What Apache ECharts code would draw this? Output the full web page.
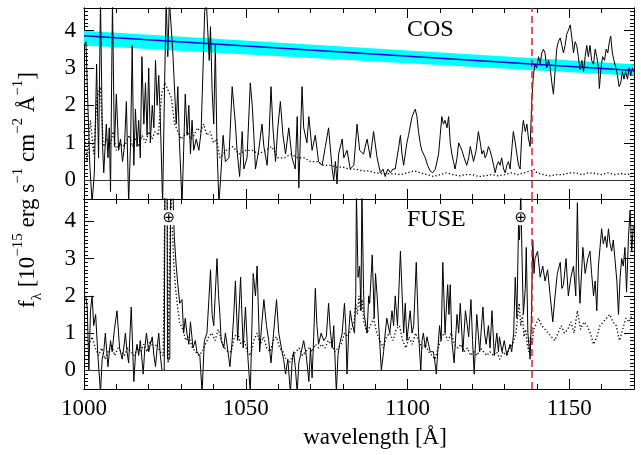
<!DOCTYPE html>
<html>
<head>
<meta charset="utf-8">
<script src="https://cdn.jsdelivr.net/npm/echarts@6/dist/echarts.min.js"></script>
<style>
  html, body { margin: 0; padding: 0; background: #fff; }
  #chart { width: 641px; height: 455px; }
</style>
</head>
<body>
<div id="chart"></div>
<script>
const FONT = '"Liberation Serif", "DejaVu Serif", serif';

// axis ranges and ticks
const xMin = 1000, xMax = 1170;
const yMin = -0.5, yMax = 4.6;
const xMajorStep = 50, xMinorStep = 10, yMinorStep = 0.1;

// dashed red line and earth-symbol positions
const edgeWave = 1138.5;
const panelNames = ['COS', 'FUSE'];
const earthMarks = [[1026.2, 4.1], [1135.0, 4.1]];

// continuum fit and its band (COS panel)
const fitLine = [[1000, 3.86], [1170, 2.93]];
const bandLo = [[1000, 3.60], [1170, 2.79]];
const bandHi = [[1000, 3.99], [1170, 3.10]];

// COS flux, solid
const cosFlux = [
  [1000.0,3.6],[1000.6,3.7],[1001.2,2.0],[1001.8,0.4],[1002.5,-0.6],[1003.2,0.2],[1003.9,3.1],[1004.5,0.6],
  [1005.1,4.8],[1005.7,1.0],[1006.1,0.2],[1006.9,1.5],[1007.4,0.6],[1007.8,1.4],[1008.2,-0.3],[1008.8,4.8],
  [1009.4,0.9],[1010.0,2.3],[1010.7,0.8],[1011.3,1.1],[1011.9,0.5],[1012.5,0.9],[1013.1,2.1],[1013.8,-0.6],
  [1014.4,1.0],[1014.9,3.6],[1015.4,0.4],[1015.9,1.9],[1016.4,0.9],[1016.9,1.6],[1017.4,0.6],[1017.9,3.3],
  [1018.5,1.5],[1019.0,2.6],[1019.5,1.2],[1020.0,3.0],[1020.5,1.0],[1021.1,2.0],[1021.6,1.4],[1022.1,3.2],
  [1022.6,2.0],[1023.1,2.8],[1023.6,1.6],[1024.3,-0.6],[1024.9,2.5],[1025.4,4.8],[1025.9,3.3],[1026.4,4.8],
  [1026.9,4.8],[1027.4,3.5],[1027.9,2.6],[1028.5,1.5],[1029.0,2.5],[1029.5,1.0],[1030.3,-0.6],[1030.8,0.8],
  [1031.3,2.3],[1031.9,1.2],[1032.4,2.0],[1032.9,0.7],[1033.4,1.6],[1033.9,0.8],[1034.7,1.1],[1035.5,0.8],
  [1036.2,1.3],[1036.8,3.0],[1037.3,4.5],[1037.8,4.8],[1038.3,4.8],[1038.7,3.2],[1039.1,4.1],[1039.6,2.4],
  [1040.1,1.5],[1040.6,3.6],[1041.1,0.9],[1041.7,-0.6],[1042.2,0.0],[1043.0,1.2],[1043.7,0.5],[1044.8,0.6],
  [1045.8,2.5],[1046.3,2.0],[1046.8,1.5],[1047.3,0.8],[1048.1,0.1],[1048.9,1.3],[1049.4,0.3],[1050.4,0.6],
  [1051.4,2.6],[1052.0,2.0],[1052.5,1.2],[1053.0,0.3],[1054.0,0.8],[1055.0,1.5],[1055.6,0.9],[1056.6,0.4],
  [1057.2,1.2],[1057.8,2.5],[1058.4,1.4],[1059.2,0.5],[1059.9,1.4],[1060.7,2.1],[1061.5,1.2],[1062.3,0.7],
  [1063.3,1.4],[1064.3,0.6],[1065.3,0.3],[1065.9,1.7],[1066.4,-0.2],[1066.9,1.2],[1067.4,2.5],[1067.9,1.4],
  [1068.9,1.0],[1069.5,1.7],[1070.5,0.8],[1071.5,1.2],[1072.5,0.5],[1073.6,0.4],[1074.6,0.9],[1075.6,1.4],
  [1076.7,0.3],[1077.2,0.0],[1077.7,0.5],[1078.2,-0.1],[1078.7,0.7],[1079.8,1.1],[1080.3,0.6],[1081.3,0.8],
  [1082.3,0.3],[1083.4,0.4],[1084.4,1.5],[1085.2,0.8],[1086.4,0.7],[1087.5,1.1],[1088.5,0.6],[1089.5,1.3],
  [1090.6,0.6],[1091.6,0.2],[1092.4,0.3],[1093.1,0.1],[1093.9,0.3],[1094.7,0.2],[1095.5,0.3],[1096.2,0.3],
  [1097.3,0.9],[1097.8,1.2],[1098.3,0.7],[1098.8,0.4],[1099.8,1.0],[1100.3,1.2],[1101.4,1.7],[1102.4,1.9],
  [1102.9,1.7],[1103.4,1.3],[1103.9,1.0],[1104.4,0.8],[1105.5,0.6],[1106.2,0.4],[1107.0,0.25],[1107.8,0.2],
  [1108.6,0.3],[1109.6,0.7],[1110.1,1.2],[1110.6,1.7],[1111.1,1.5],[1111.6,1.6],[1112.2,1.4],[1112.7,1.7],
  [1113.2,1.0],[1113.7,0.7],[1114.2,0.5],[1114.7,0.3],[1115.3,0.6],[1115.8,1.0],[1116.3,0.9],[1116.8,0.8],
  [1117.5,0.6],[1118.3,0.4],[1118.9,0.6],[1119.4,0.9],[1119.9,0.7],[1120.4,0.5],[1121.2,0.8],[1121.9,1.3],
  [1122.5,1.0],[1123.0,0.7],[1123.5,0.8],[1124.0,0.6],[1124.5,0.7],[1125.0,0.9],[1125.5,0.8],[1126.1,0.6],
  [1126.6,0.4],[1127.1,0.2],[1127.6,0.4],[1128.1,0.5],[1128.6,0.4],[1129.1,0.6],[1129.7,0.3],[1130.2,0.2],
  [1130.7,0.4],[1131.2,0.5],[1131.7,0.3],[1132.2,0.8],[1132.7,1.3],[1133.3,1.0],[1133.8,0.7],[1134.3,0.4],
  [1134.8,0.3],[1135.3,1.2],[1135.8,1.6],[1136.4,1.3],[1136.9,1.5],[1137.4,1.1],[1137.9,0.9],[1138.4,2.1],
  [1138.9,2.8],[1139.4,3.1],[1139.9,3.0],[1140.5,3.3],[1141.0,3.1],[1141.5,3.4],[1142.0,3.5],[1142.5,3.4],
  [1143.0,3.0],[1143.6,3.2],[1144.1,3.0],[1144.6,2.6],[1145.1,2.3],[1145.6,2.9],[1146.1,3.5],[1146.6,3.7],
  [1147.2,3.8],[1147.7,3.6],[1148.2,3.4],[1148.7,3.6],[1149.2,3.9],[1149.7,4.0],[1150.3,4.15],[1150.8,3.8],
  [1151.3,3.4],[1151.8,3.7],[1152.3,3.6],[1152.8,3.3],[1153.3,2.95],[1153.9,3.2],[1154.4,2.9],[1154.9,3.3],
  [1155.4,3.6],[1155.9,3.3],[1156.4,3.6],[1156.9,3.2],[1157.5,3.1],[1158.0,3.5],[1158.5,3.3],[1159.0,3.0],
  [1159.3,2.45],[1159.8,3.0],[1160.3,3.3],[1160.9,3.2],[1161.4,3.5],[1161.9,3.4],[1162.4,3.7],[1162.8,3.85],
  [1163.3,3.4],[1163.8,3.2],[1164.4,3.0],[1164.9,2.8],[1165.4,2.5],[1165.9,2.6],[1166.4,2.9],[1166.9,2.7],
  [1167.4,2.9],[1168.0,2.7],[1168.5,3.0],[1169.0,2.8],[1169.5,3.0],[1170.0,2.9]
];

// COS error, dotted
const cosErr = [
  [1000,1.3],[1001,0.5],[1002,1.6],[1003,0.7],[1004,2.2],[1005,2.5],[1006,0.9],[1007,1.1],[1008,0.9],
  [1009,1.3],[1010,0.8],[1011,1.0],[1012,0.9],[1013,1.0],[1014,1.2],[1015,0.9],[1016,1.1],[1017,0.9],
  [1018,1.2],[1019,1.0],[1020,1.3],[1021,1.1],[1022,1.3],[1023,1.2],[1024,2.3],[1025,2.6],[1026,2.4],
  [1027,2.2],[1028,1.5],[1029,1.3],[1030,1.1],[1031,1.2],[1032,1.3],[1033,1.1],[1034,1.2],[1035,1.4],
  [1036,1.3],[1037,1.5],[1038,1.2],[1039,1.3],[1040,1.0],[1041,1.1],[1042,0.6],[1044,0.8],[1046,0.9],
  [1048,0.7],[1050,0.8],[1052,0.8],[1054,0.7],[1056,0.8],[1058,0.9],[1060,0.6],[1062,0.6],[1064,0.7],
  [1066,0.6],[1068,0.6],[1070,0.5],[1072,0.5],[1074,0.4],[1076,0.4],[1078,0.35],[1080,0.35],[1082,0.3],
  [1084,0.3],[1086,0.25],[1088,0.25],[1090,0.2],[1092,0.18],[1094,0.18],[1096,0.17],[1098,0.15],[1100,0.2],
  [1102,0.25],[1104,0.2],[1106,0.15],[1108,0.1],[1110,0.15],[1112,0.2],[1114,0.15],[1116,0.12],[1118,0.15],
  [1120,0.15],[1122,0.1],[1124,0.12],[1126,0.15],[1128,0.12],[1130,0.15],[1132,0.2],[1134,0.15],[1136,0.2],
  [1138,0.25],[1139,0.3],[1140,0.2],[1142,0.15],[1144,0.12],[1146,0.15],[1148,0.15],[1150,0.2],[1152,0.2],
  [1154,0.15],[1156,0.2],[1158,0.18],[1160,0.15],[1162,0.2],[1164,0.15],[1166,0.18],[1168,0.15],[1170,0.2]
];

// FUSE flux, solid
const fuseFlux = [
  [1000.5,2.0],[1001.0,1.7],[1001.5,0.0],[1002.0,1.6],[1002.5,2.0],[1003.0,1.2],[1003.6,1.5],[1004.3,0.4],
  [1005.1,-0.6],[1005.6,0.3],[1006.1,0.5],[1006.6,1.0],[1007.4,0.1],[1008.2,0.8],[1008.7,0.5],[1009.4,1.1],
  [1010.2,1.6],[1011.0,0.6],[1011.8,0.3],[1012.3,0.6],[1012.8,1.0],[1013.3,0.5],[1013.8,0.2],[1014.6,1.7],
  [1015.4,-0.3],[1015.9,0.4],[1016.4,0.7],[1016.9,0.4],[1017.4,0.8],[1018.3,-0.1],[1018.8,0.6],[1019.3,1.0],
  [1020.0,0.5],[1020.5,0.7],[1021.1,0.9],[1021.6,0.4],[1022.1,0.1],[1022.6,0.6],[1023.1,1.0],[1023.6,0.4],
  [1024.1,0.0],[1024.8,0.0],[1025.0,4.8],[1025.7,4.8],[1025.8,0.3],[1026.5,0.3],[1026.8,4.8],[1027.5,4.8],
  [1027.9,3.6],[1028.5,2.8],[1029.0,2.3],[1029.6,1.8],[1030.3,1.9],[1030.8,1.0],[1031.3,1.4],[1031.8,1.0],
  [1032.4,0.7],[1032.9,1.3],[1033.7,0.6],[1034.4,0.8],[1034.9,0.5],[1035.8,0.4],[1036.5,-0.6],[1037.2,0.8],
  [1038.0,1.0],[1038.6,1.9],[1039.1,2.7],[1039.6,1.5],[1040.1,1.2],[1041.1,3.0],[1041.6,2.0],[1042.0,1.5],
  [1042.4,0.8],[1043.2,0.6],[1043.7,1.0],[1044.2,0.7],[1045.1,0.1],[1045.8,0.8],[1046.3,1.5],[1046.8,2.4],
  [1047.5,0.8],[1048.4,2.5],[1049.2,0.6],[1049.9,1.7],[1050.7,0.3],[1051.4,-0.6],[1052.3,2.6],[1053.0,2.0],
  [1053.5,2.8],[1054.3,0.5],[1054.9,1.2],[1055.6,1.9],[1056.4,1.2],[1057.1,0.8],[1057.8,0.2],[1058.6,1.0],
  [1059.5,1.9],[1060.2,1.0],[1061.2,0.5],[1061.7,0.3],[1062.3,-0.1],[1063.0,0.3],[1063.8,-0.6],[1064.3,0.2],
  [1064.8,0.5],[1065.3,0.1],[1065.9,-0.6],[1066.4,0.2],[1066.9,0.4],[1067.9,0.8],[1068.7,0.4],[1069.5,-0.3],
  [1070.0,0.6],[1070.5,-0.2],[1071.0,0.9],[1071.5,2.2],[1072.0,1.2],[1072.5,0.7],[1073.3,1.0],[1074.1,0.8],
  [1074.9,0.9],[1075.6,1.8],[1076.1,1.1],[1076.7,0.6],[1077.2,1.2],[1078.0,-0.6],[1078.5,0.4],[1079.0,0.7],
  [1079.8,1.0],[1080.5,1.8],[1080.9,1.2],[1081.3,-0.1],[1081.8,1.0],[1082.3,1.6],[1082.8,1.3],[1083.6,1.0],
  [1084.0,2.0],[1084.2,4.8],[1084.4,4.8],[1084.7,2.5],[1085.2,2.8],[1085.6,1.6],[1085.9,4.8],[1086.1,4.8],
  [1086.4,2.2],[1086.6,1.5],[1087.5,1.0],[1088.0,2.0],[1088.3,1.8],[1089.1,3.1],[1089.7,1.4],[1090.1,2.6],
  [1090.6,2.0],[1091.3,0.9],[1091.9,0.0],[1092.6,0.5],[1093.1,1.0],[1093.6,1.4],[1094.5,1.0],[1095.2,1.6],
  [1095.7,1.2],[1096.2,2.0],[1096.9,1.2],[1097.8,3.2],[1098.8,1.0],[1099.3,1.8],[1099.8,0.8],[1100.8,1.6],
  [1101.4,1.0],[1101.9,1.2],[1102.7,2.9],[1103.4,1.0],[1104.1,0.0],[1104.5,0.8],[1104.9,1.0],[1105.5,0.6],
  [1106.0,0.9],[1107.0,0.5],[1108.0,0.5],[1108.5,0.2],[1108.9,-0.1],[1109.4,0.6],[1109.9,1.2],[1110.4,0.8],
  [1110.9,2.9],[1111.6,1.0],[1112.4,2.3],[1112.8,1.5],[1113.2,2.3],[1113.7,0.8],[1114.4,0.2],[1115.3,1.5],
  [1115.8,1.0],[1116.3,1.8],[1117.1,0.5],[1117.9,1.6],[1118.9,0.9],[1119.6,1.9],[1120.1,0.8],[1120.6,-0.1],
  [1121.4,1.5],[1122.3,0.5],[1123.3,1.7],[1123.8,1.0],[1124.3,0.7],[1125.0,1.2],[1125.5,0.6],[1126.1,1.6],
  [1126.8,0.4],[1127.6,1.0],[1128.1,0.5],[1128.4,0.9],[1129.2,0.5],[1129.9,0.8],[1130.7,0.4],[1131.7,0.7],
  [1132.2,0.5],[1132.8,1.0],[1133.3,2.5],[1133.8,1.4],[1134.3,3.9],[1134.6,3.5],[1135.0,4.8],[1135.4,3.0],
  [1135.8,1.5],[1136.4,2.2],[1136.7,3.3],[1137.2,1.0],[1137.9,0.3],[1138.3,1.5],[1138.7,3.5],[1139.1,2.6],
  [1139.4,3.0],[1140.2,3.2],[1141.0,2.5],[1141.8,2.8],[1142.5,2.4],[1143.3,2.7],[1144.1,2.0],[1144.9,1.3],
  [1145.6,2.0],[1146.3,2.6],[1147.2,2.9],[1147.7,2.2],[1148.2,2.3],[1149.0,3.0],[1149.7,2.0],[1150.5,2.5],
  [1151.3,2.8],[1152.0,2.0],[1152.5,4.5],[1152.9,2.6],[1153.3,1.8],[1154.2,3.3],[1154.9,2.6],[1155.7,3.0],
  [1156.4,3.2],[1156.9,2.6],[1157.5,2.0],[1158.0,2.4],[1158.5,1.6],[1159.0,2.8],[1159.5,3.3],[1160.0,3.8],
  [1160.5,3.4],[1161.1,3.6],[1161.6,3.3],[1162.1,3.8],[1162.6,3.4],[1163.1,3.2],[1163.6,3.5],[1164.1,3.0],
  [1164.7,2.4],[1165.2,1.5],[1165.7,2.5],[1166.2,3.0],[1166.7,2.8],[1167.2,3.3],[1167.7,2.1],[1168.3,3.6],
  [1168.8,4.3],[1169.3,3.2],[1169.8,3.9]
];

// FUSE error, dotted
const fuseErr = [
  [1000.5,0.9],[1001.5,0.7],[1002.5,0.9],[1003.5,0.6],[1004.5,0.4],[1005.5,0.6],[1006.5,0.3],[1007.5,0.5],
  [1008.5,0.7],[1009.5,0.4],[1010.5,0.6],[1011.5,0.5],[1012.5,0.4],[1013.5,0.6],[1014.5,0.5],[1015.5,0.4],
  [1016.5,0.6],[1017.5,0.5],[1018.5,0.7],[1019.5,0.5],[1020.5,0.8],[1021.5,0.6],[1022.5,0.7],[1023.5,0.5],
  [1024.5,0.4],[1025.0,4.8],[1025.7,4.8],[1026.0,0.2],[1026.8,4.8],[1027.4,4.8],[1027.8,2.8],[1028.3,2.2],
  [1028.8,1.8],[1029.5,1.3],[1030.5,1.1],[1031.5,0.8],[1032.5,0.9],[1033.5,0.6],[1034.5,0.5],[1035.5,0.4],
  [1036.5,0.5],[1037.5,0.7],[1038.5,0.9],[1039.5,1.0],[1040.5,0.8],[1041.5,1.1],[1042.5,0.8],[1043.5,0.6],
  [1044.5,0.5],[1045.5,0.5],[1046.5,0.9],[1047.5,1.0],[1048.5,0.7],[1049.5,0.8],[1050.5,0.5],[1051.5,0.4],
  [1052.5,0.8],[1053.5,1.0],[1054.5,0.7],[1055.5,0.9],[1056.5,0.6],[1057.5,0.5],[1058.5,0.8],[1059.5,0.9],
  [1060.5,0.6],[1061.5,0.5],[1062.5,0.3],[1063.5,0.2],[1064.5,0.4],[1065.5,0.5],[1066.5,0.6],[1067.5,0.4],
  [1068.5,0.5],[1069.5,0.6],[1070.5,0.5],[1071.5,0.7],[1072.5,0.6],[1073.5,0.7],[1074.5,0.6],[1075.5,0.8],
  [1076.5,0.7],[1077.5,0.5],[1078.5,0.6],[1079.5,0.7],[1080.5,1.0],[1081.5,0.9],[1082.5,1.1],[1083.5,1.3],
  [1084.0,1.8],[1084.5,1.5],[1085.0,2.0],[1085.5,1.6],[1086.0,1.9],[1086.5,1.3],[1087.5,1.0],[1088.5,1.2],
  [1089.5,1.4],[1090.5,1.0],[1091.5,0.8],[1092.5,0.6],[1093.5,0.9],[1094.5,1.0],[1095.5,0.8],[1096.5,1.1],
  [1097.5,1.2],[1098.5,0.8],[1099.5,0.6],[1100.5,0.9],[1101.5,0.7],[1102.5,1.0],[1103.5,0.8],[1104.5,0.6],
  [1105.5,0.7],[1106.5,0.5],[1107.5,0.4],[1108.5,0.3],[1109.5,0.6],[1110.5,0.9],[1111.5,1.0],[1112.5,0.8],
  [1113.5,1.0],[1114.5,0.7],[1115.5,0.6],[1116.5,0.7],[1117.5,0.5],[1118.5,0.6],[1119.5,0.4],[1120.5,0.5],
  [1121.5,0.4],[1122.5,0.6],[1123.5,0.5],[1124.5,0.4],[1125.5,0.5],[1126.5,0.4],[1127.5,0.5],[1128.5,0.3],
  [1129.5,0.5],[1130.5,0.4],[1131.5,0.6],[1132.5,0.7],[1133.5,1.0],[1134.0,1.4],[1134.5,1.8],[1135.0,1.2],
  [1135.5,1.5],[1136.0,0.9],[1136.5,1.1],[1137.0,0.7],[1137.5,0.5],[1138.0,0.9],[1138.5,0.7],[1139.0,1.1],
  [1139.5,1.2],[1140.5,1.4],[1141.5,1.2],[1142.5,1.1],[1143.5,1.0],[1144.5,0.9],[1145.5,0.8],[1146.5,1.0],
  [1147.5,1.2],[1148.5,1.0],[1149.5,1.1],[1150.5,1.3],[1151.5,1.0],[1152.5,1.6],[1153.5,1.1],[1154.5,1.3],
  [1155.5,1.2],[1156.5,1.0],[1157.5,0.7],[1158.5,0.9],[1159.5,1.2],[1160.5,1.3],[1161.5,1.4],[1162.5,1.5],
  [1163.5,1.3],[1164.5,1.2],[1165.5,0.8],[1166.5,1.1],[1167.5,1.4],[1168.5,1.3],[1169.5,1.5]
];

const chart = echarts.init(document.getElementById('chart'));

const labelStyle = { fontFamily: FONT, fontSize: 23, color: '#000' };

function xAxesFor(grid, withLabels) {
  const make = (position, interval, len, labels) => ({
    type: 'value',
    gridIndex: grid,
    position: position,
    min: xMin,
    max: xMax,
    interval: interval,
    axisLine: { onZero: false, lineStyle: { color: '#000', width: 1 } },
    axisTick: { inside: true, length: len, lineStyle: { color: '#000' } },
    splitLine: { show: false },
    axisLabel: labels ? {
      ...labelStyle,
      margin: 8,
      showMaxLabel: false,
      formatter: (v) => (v % xMajorStep === 0 ? String(v) : ''),
    } : { show: false },
  });
  return [
    make('bottom', xMajorStep, 10, withLabels),
    make('bottom', xMinorStep, 5, false),
    make('top', xMajorStep, 10, false),
    make('top', xMinorStep, 5, false),
  ];
}

function yAxesFor(grid) {
  const major = (position, labels) => ({
    type: 'value',
    gridIndex: grid,
    position: position,
    min: yMin,
    max: yMax,
    splitNumber: 5,
    axisLine: { onZero: false, lineStyle: { color: '#000', width: 1 } },
    axisTick: { inside: true, length: 10, lineStyle: { color: '#000' } },
    splitLine: { show: false },
    axisLabel: labels ? {
      ...labelStyle,
      margin: 8,
      showMinLabel: false,
      showMaxLabel: false,
      formatter: (v) => (Number.isInteger(v) ? String(v) : ''),
    } : { show: false },
  });
  const minor = (position) => ({
    type: 'value',
    gridIndex: grid,
    position: position,
    min: yMin,
    max: yMax,
    interval: yMinorStep,
    axisLine: { onZero: false, lineStyle: { color: '#000', width: 1 } },
    axisTick: { inside: true, length: 4, lineStyle: { color: '#000' } },
    splitLine: { show: false },
    axisLabel: { show: false },
  });
  return [major('left', true), minor('left'), major('right', false), minor('right')];
}

function lineSeries(data, axis, dotted) {
  return {
    type: 'line',
    xAxisIndex: axis,
    yAxisIndex: axis,
    data: data,
    symbol: 'none',
    showSymbol: false,
    silent: true,
    clip: true,
    z: dotted ? 3 : 4,
    lineStyle: dotted
      ? { color: '#000', width: 1.3, type: [1.3, 2.2] }
      : { color: '#000', width: 1, type: 'solid' },
  };
}

function guideLines() {
  return {
    silent: true,
    symbol: ['none', 'none'],
    label: { show: false },
    data: [
      { yAxis: 0, lineStyle: { color: '#333', width: 1, type: 'solid' } },
      { xAxis: edgeWave, lineStyle: { color: '#e8202a', width: 1.5, type: [7, 4] } },
    ],
  };
}

const cosLine = lineSeries(cosFlux, 0, false);
cosLine.markLine = guideLines();

const fuseLine = lineSeries(fuseFlux, 4, false);
fuseLine.markLine = guideLines();
fuseLine.markPoint = {
  silent: true,
  symbol: 'rect',
  symbolSize: 1,
  itemStyle: { color: 'rgba(0,0,0,0)' },
  label: {
    show: true,
    position: 'inside',
    formatter: '\u2295',
    fontFamily: '"DejaVu Sans", sans-serif',
    fontSize: 15,
    color: '#000',
    backgroundColor: '#fff',
    padding: [0, 1],
  },
  data: earthMarks.map((c) => ({ coord: c })),
};

const bandData = bandLo.map((p, i) => [p[0], p[1], bandHi[i][1]]);

const option = {
  animation: false,
  backgroundColor: '#fff',
  grid: [
    { left: 84, right: 7, top: 8, height: 191, containLabel: false, outerBoundsMode: 'none' },
    { left: 84, right: 7, top: 199, height: 190, containLabel: false, outerBoundsMode: 'none' },
  ],
  xAxis: [...xAxesFor(0, false), ...xAxesFor(1, true)],
  yAxis: [...yAxesFor(0), ...yAxesFor(1)],
  title: panelNames.map((name, i) => ({
    text: name,
    left: 407,
    top: i === 0 ? 18 : 208,
    padding: 0,
    textStyle: { fontFamily: FONT, fontSize: 24, fontWeight: 'normal', color: '#000' },
  })),
  graphic: [
    {
      type: 'text',
      x: 375,
      y: 438,
      style: {
        text: 'wavelength [Å]',
        font: '23px ' + FONT,
        fill: '#000',
        align: 'center',
        verticalAlign: 'middle',
      },
    },
    {
      type: 'text',
      x: 28,
      y: 190,
      rotation: Math.PI / 2,
      style: {
        text: '{n|f}{sub|λ}{n| [10}{sup|−15}{n| erg s}{sup|−1}{n| cm}{sup|−2}{n| Å}{sup|−1}{n|]}',
        align: 'center',
        verticalAlign: 'middle',
        fill: '#000',
        rich: {
          n: { fontFamily: FONT, fontSize: 23, lineHeight: 34, fill: '#000' },
          sup: { fontFamily: FONT, fontSize: 15, lineHeight: 15, verticalAlign: 'top', fill: '#000' },
          sub: { fontFamily: FONT, fontSize: 15, lineHeight: 15, verticalAlign: 'bottom', fill: '#000' },
        },
      },
    },
  ],
  series: [
    {
      type: 'custom',
      xAxisIndex: 0,
      yAxisIndex: 0,
      silent: true,
      z: 1,
      data: bandData,
      renderItem: (params, api) => {
        const i = params.dataIndex;
        if (i >= bandData.length - 1) return null;
        const a = bandData[i], b = bandData[i + 1];
        return {
          type: 'polygon',
          shape: {
            points: [
              api.coord([a[0], a[1]]),
              api.coord([b[0], b[1]]),
              api.coord([b[0], b[2]]),
              api.coord([a[0], a[2]]),
            ],
          },
          style: { fill: '#00ffff' },
        };
      },
    },
    lineSeries(cosErr, 0, true),
    cosLine,
    {
      type: 'line',
      xAxisIndex: 0,
      yAxisIndex: 0,
      data: fitLine,
      symbol: 'none',
      silent: true,
      z: 5,
      lineStyle: { color: '#0000e6', width: 1.5 },
    },
    lineSeries(fuseErr, 4, true),
    fuseLine,
  ],
};

chart.setOption(option);
</script>
</body>
</html>
